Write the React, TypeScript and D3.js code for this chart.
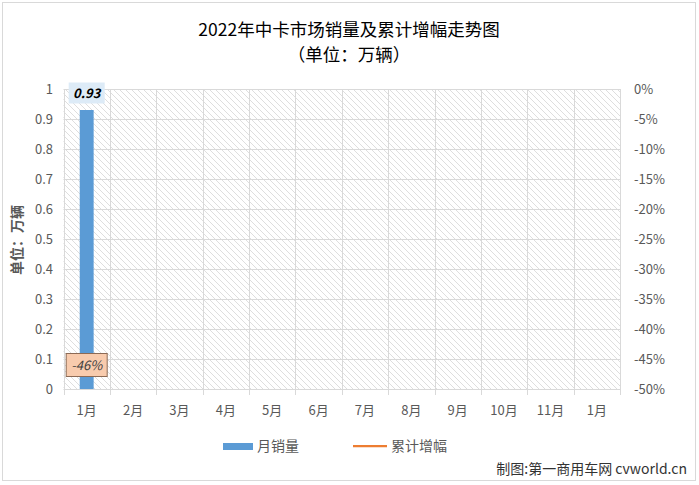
import React from "react";
import * as d3 from "d3";

const categories = ["1月", "2月", "3月", "4月", "5月", "6月", "7月", "8月", "9月", "10月", "11月", "1月"];
const monthlySales: (number | null)[] = [0.93, null, null, null, null, null, null, null, null, null, null, null];
const cumulativeGrowth: (number | null)[] = [-46, null, null, null, null, null, null, null, null, null, null, null];
const leftTicks = [0, 0.1, 0.2, 0.3, 0.4, 0.5, 0.6, 0.7, 0.8, 0.9, 1];
const rightTicks = [0, -5, -10, -15, -20, -25, -30, -35, -40, -45, -50];
const title = "2022年中卡市场销量及累计增幅走势图";
const subtitle = "（单位：万辆）";
const yTitle = "单位：万辆";
const legendNames = ["月销量", "累计增幅"];
const footer = "制图:第一商用车网 cvworld.cn";

const W = 699;
const H = 485;
const FONT = "'Noto Sans CJK SC', 'Open Sans', sans-serif";

export default function App() {
  const left = 63.5;
  const right = 620;
  const top = 89;
  const bottom = 389;

  const x = d3.scaleBand<number>().domain(d3.range(categories.length)).range([left, right]).paddingInner(0).paddingOuter(0);
  const yL = d3.scaleLinear().domain([0, 1]).range([bottom, top]);
  const yR = d3.scaleLinear().domain([-50, 0]).range([bottom, top]);
  const barW = x.bandwidth() * 0.3;

  const linePath = d3
    .line<number | null>()
    .defined((d) => d !== null)
    .x((_, i) => (x(i) as number) + x.bandwidth() / 2)
    .y((d) => yR(d as number))(cumulativeGrowth);

  return (
    <svg width={W} height={H} style={{ position: "absolute", left: 0, top: 0, fontFamily: FONT }}>
      <defs>
        <pattern id="hatch" patternUnits="userSpaceOnUse" width="6" height="6">
          <path d="M-1,-1 L7,7 M-4,2 L2,8 M2,-4 L8,2" stroke="#dedede" strokeWidth="1" />
        </pattern>
      </defs>
      <rect x={0} y={0} width={W} height={H} fill="#fff" />
      <rect x={2.5} y={2.5} width={693} height={478} fill="#fff" stroke="#d9d9d9" strokeWidth={1} />

      <text x={349} y={36} textAnchor="middle" fontSize={17.5} fill="#000">{title}</text>
      <text x={349} y={61} textAnchor="middle" fontSize={17.5} fill="#000">{subtitle}</text>

      <rect x={left} y={top} width={right - left} height={bottom - top} fill="url(#hatch)" />

      {leftTicks.map((t) => (
        <line key={"g" + t} x1={left} x2={right} y1={Math.round(yL(t)) + 0.5} y2={Math.round(yL(t)) + 0.5} stroke="#d9d9d9" strokeWidth={1} />
      ))}
      {d3.range(categories.length + 1).map((i) => {
        const xx = Math.round(left + i * x.bandwidth()) + 0.5;
        return <line key={"v" + i} x1={xx} x2={xx} y1={top} y2={bottom + 6} stroke="#d9d9d9" strokeWidth={1} />;
      })}

      {monthlySales.map((v, i) =>
        v === null ? null : (
          <rect key={"b" + i} x={(x(i) as number) + x.bandwidth() / 2 - barW / 2} y={yL(v)} width={barW} height={yL(0) - yL(v)} fill="#5b9bd5" />
        )
      )}

      {linePath && <path d={linePath} fill="none" stroke="#ed7d31" strokeWidth={2.25} />}

      {leftTicks.map((t) => (
        <text key={"l" + t} x={53} y={yL(t)} dy="0.35em" textAnchor="end" fontSize={13} fill="#595959">{String(t)}</text>
      ))}
      {rightTicks.map((t) => (
        <text key={"r" + t} x={634} y={yR(t)} dy="0.35em" textAnchor="start" fontSize={13} fill="#595959">{t + "%"}</text>
      ))}
      {categories.map((c, i) => (
        <text key={"c" + i} x={(x(i) as number) + x.bandwidth() / 2} y={410} dy="0.35em" textAnchor="middle" fontSize={13} fill="#595959">{c}</text>
      ))}

      <text transform={`translate(17,${240}) rotate(-90)`} textAnchor="middle" dy="0.35em" fontSize={14} fontWeight="bold" fill="#595959">{yTitle}</text>

      {monthlySales.map((v, i) => {
        if (v === null) return null;
        const cx = (x(i) as number) + x.bandwidth() / 2;
        const cy = yL(v) - 17;
        return (
          <g key={"bl" + i}>
            <rect x={cx - 18} y={cy - 10.5} width={36} height={21} fill="#ddebf7" />
            <text x={cx} y={cy} dy="0.35em" textAnchor="middle" fontSize={13} fontWeight="bold" fontStyle="italic" fill="#000">{v.toFixed(2)}</text>
          </g>
        );
      })}
      {cumulativeGrowth.map((v, i) => {
        if (v === null) return null;
        const cx = (x(i) as number) + x.bandwidth() / 2;
        const cy = yR(v);
        return (
          <g key={"ll" + i}>
            <rect x={cx - 20.5} y={cy - 11.5} width={41} height={23} fill="#f8cbad" stroke="#8c6a55" strokeWidth={1} />
            <text x={cx} y={cy} dy="0.35em" textAnchor="middle" fontSize={13} fontStyle="italic" fill="#404040">{v + "%"}</text>
          </g>
        );
      })}

      <rect x={223} y={443} width={30} height={7} fill="#5b9bd5" />
      <text x={257} y={446} dy="0.35em" fontSize={14} fill="#595959">{legendNames[0]}</text>
      <line x1={353} x2={387} y1={446} y2={446} stroke="#ed7d31" strokeWidth={2.25} />
      <text x={391} y={446} dy="0.35em" fontSize={14} fill="#595959">{legendNames[1]}</text>

      <text x={687} y={469} dy="0.35em" textAnchor="end" fontSize={14} fill="#333">{footer}</text>
    </svg>
  );
}
